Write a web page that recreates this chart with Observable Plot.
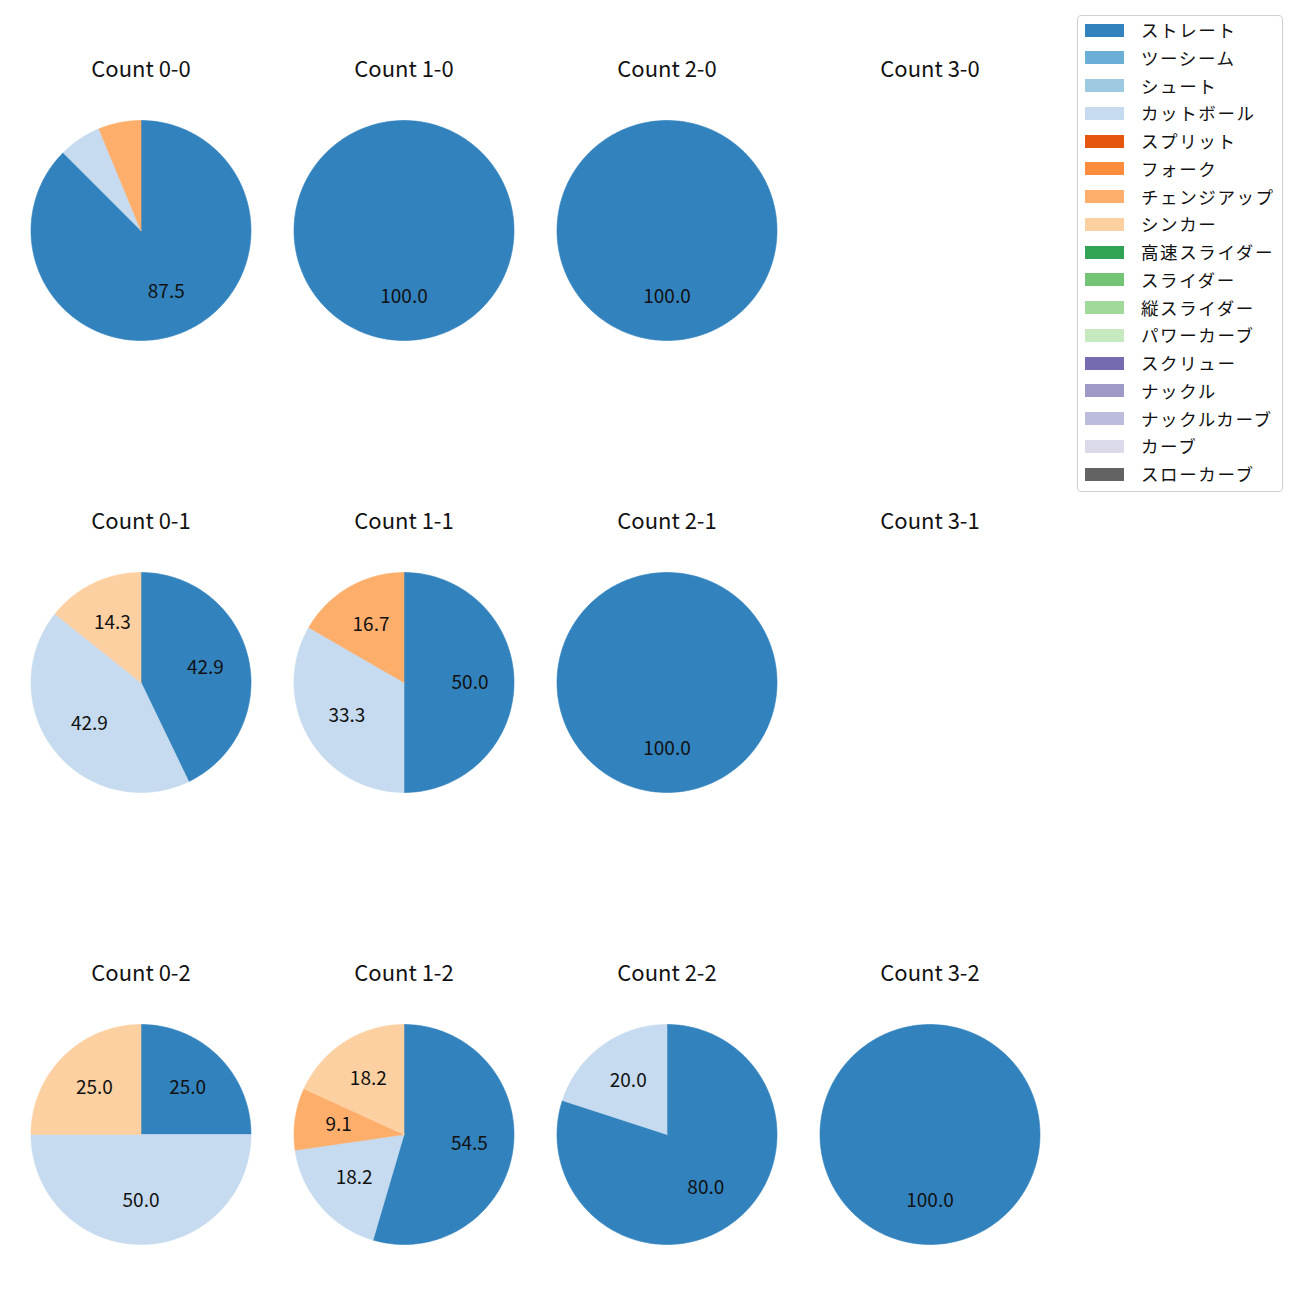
<!DOCTYPE html>
<html>
<head>
<meta charset="utf-8">
<script src="https://cdn.jsdelivr.net/npm/d3@7"></script>
<script src="https://cdn.jsdelivr.net/npm/@observablehq/plot@0.6"></script>
<style>
  body { margin: 0; background: #fff; font-family: "Noto Sans CJK JP", "Noto Sans", sans-serif; }
  #wrap { position: relative; width: 1300px; height: 1300px; }
  #legend { position: absolute; left: 1077px; top: 15px; width: 206px; height: 477px;
            border: 1px solid #d0d0d0; border-radius: 4px; background: #fff; box-sizing: border-box; }
  .sw { position: absolute; left: 7px; width: 39px; height: 13px; }
  .lt { position: absolute; left: 63px; font-size: 17.5px; letter-spacing: 1.6px; line-height: 24px; color: #111; white-space: nowrap; }
</style>
</head>
<body>
<div id="wrap"><div id="chart"></div><div id="legend"></div></div>
<script>
// ---- data ----
const pitchTypes = ["ストレート","ツーシーム","シュート","カットボール","スプリット","フォーク","チェンジアップ","シンカー","高速スライダー","スライダー","縦スライダー","パワーカーブ","スクリュー","ナックル","ナックルカーブ","カーブ","スローカーブ"];
const pitchColors = ["#3182bd","#6baed6","#9ecae1","#c6dbef","#e6550d","#fd8d3c","#fdae6b","#fdd0a2","#31a354","#74c476","#a1d99b","#c7e9c0","#756bb1","#9e9ac8","#bcbddc","#dadaeb","#636363"];

const counts  = ["0-0","1-0","2-0","3-0","0-1","1-1","2-1","3-1","0-2","1-2","2-2","3-2"];
const balls   = [0,1,2,3,0,1,2,3,0,1,2,3];
const strikes = [0,0,0,0,1,1,1,1,2,2,2,2];
// pitches thrown per count, by type (percentages in the chart come from these)
const straight = [14, 1, 1, 0, 3, 3, 1, 0, 1, 6, 4, 1];
const cutter   = [ 1, 0, 0, 0, 3, 2, 0, 0, 2, 2, 1, 0];
const changeup = [ 1, 0, 0, 0, 0, 1, 0, 0, 0, 1, 0, 0];
const sinker   = [ 0, 0, 0, 0, 1, 0, 0, 0, 1, 2, 0, 0];
const seriesByType = {"ストレート": straight, "カットボール": cutter, "チェンジアップ": changeup, "シンカー": sinker};

// ---- build pie geometry from data (clockwise from 12 o'clock) ----
const slicePts = [];
const labels = [];
const titles = counts.map((c, i) => ({ball: balls[i], strike: strikes[i], text: "Count " + c}));
counts.forEach((c, i) => {
  const rows = pitchTypes.filter(t => seriesByType[t] && seriesByType[t][i] > 0)
                         .map(t => ({type: t, v: seriesByType[t][i]}));
  const total = d3.sum(rows, r => r.v);
  if (!total) return;
  let acc = 0;
  rows.forEach((r, k) => {
    const a0 = acc / total * 2 * Math.PI;
    acc += r.v;
    const a1 = acc / total * 2 * Math.PI;
    const id = c + "|" + k;
    const full = r.v === total;
    const base = {ball: balls[i], strike: strikes[i], type: r.type, id};
    if (!full) slicePts.push({...base, x: 0, y: 0});
    const n = Math.max(2, Math.ceil((a1 - a0) / (Math.PI / 180)));
    for (let j = 0; j <= n; j++) {
      const a = a0 + (a1 - a0) * j / n;
      slicePts.push({...base, x: Math.sin(a), y: Math.cos(a)});
    }
    if (!full) slicePts.push({...base, x: 0, y: 0});
    const pct = r.v / total * 100;
    if (pct >= 8) {
      const am = (a0 + a1) / 2;
      labels.push({ball: balls[i], strike: strikes[i], x: 0.6 * Math.sin(am), y: 0.6 * Math.cos(am), text: pct.toFixed(1)});
    }
  });
});

const chart = Plot.plot({
  width: 1070, height: 1300,
  marginLeft: 8.5, marginRight: 9.5, marginTop: 44, marginBottom: 51,
  style: {fontFamily: '"Noto Sans CJK JP", sans-serif', background: "white"},
  fx: {domain: [0,1,2,3], paddingInner: 0, paddingOuter: 0, axis: null},
  fy: {domain: [0,1,2], paddingInner: 152.5/452.5, paddingOuter: 0, axis: null},
  x: {domain: [-263/220, 263/220], axis: null},
  y: {domain: [-115/110, 185/110], axis: null},
  color: {domain: pitchTypes, range: pitchColors},
  marks: [
    Plot.line(slicePts, {fx: "ball", fy: "strike", x: "x", y: "y", z: "id", fill: "type", stroke: "type", strokeWidth: 0.6, curve: "linear"}),
    Plot.text(labels, {fx: "ball", fy: "strike", x: "x", y: "y", text: "text", fontSize: 19, fill: "#111"}),
    Plot.text(titles, {fx: "ball", fy: "strike", frameAnchor: "top", dy: 16, text: "text", fontSize: 22, fill: "#111"})
  ]
});
document.getElementById("chart").append(chart);

// ---- legend ----
const legend = document.getElementById("legend");
pitchTypes.forEach((t, i) => {
  const cy = 14 + i * 27.75;
  const sw = document.createElement("div");
  sw.className = "sw"; sw.style.top = (cy - 6.5) + "px"; sw.style.background = pitchColors[i];
  const lt = document.createElement("div");
  lt.className = "lt"; lt.style.top = (cy - 12) + "px"; lt.textContent = t;
  legend.append(sw, lt);
});
</script>
</body>
</html>
